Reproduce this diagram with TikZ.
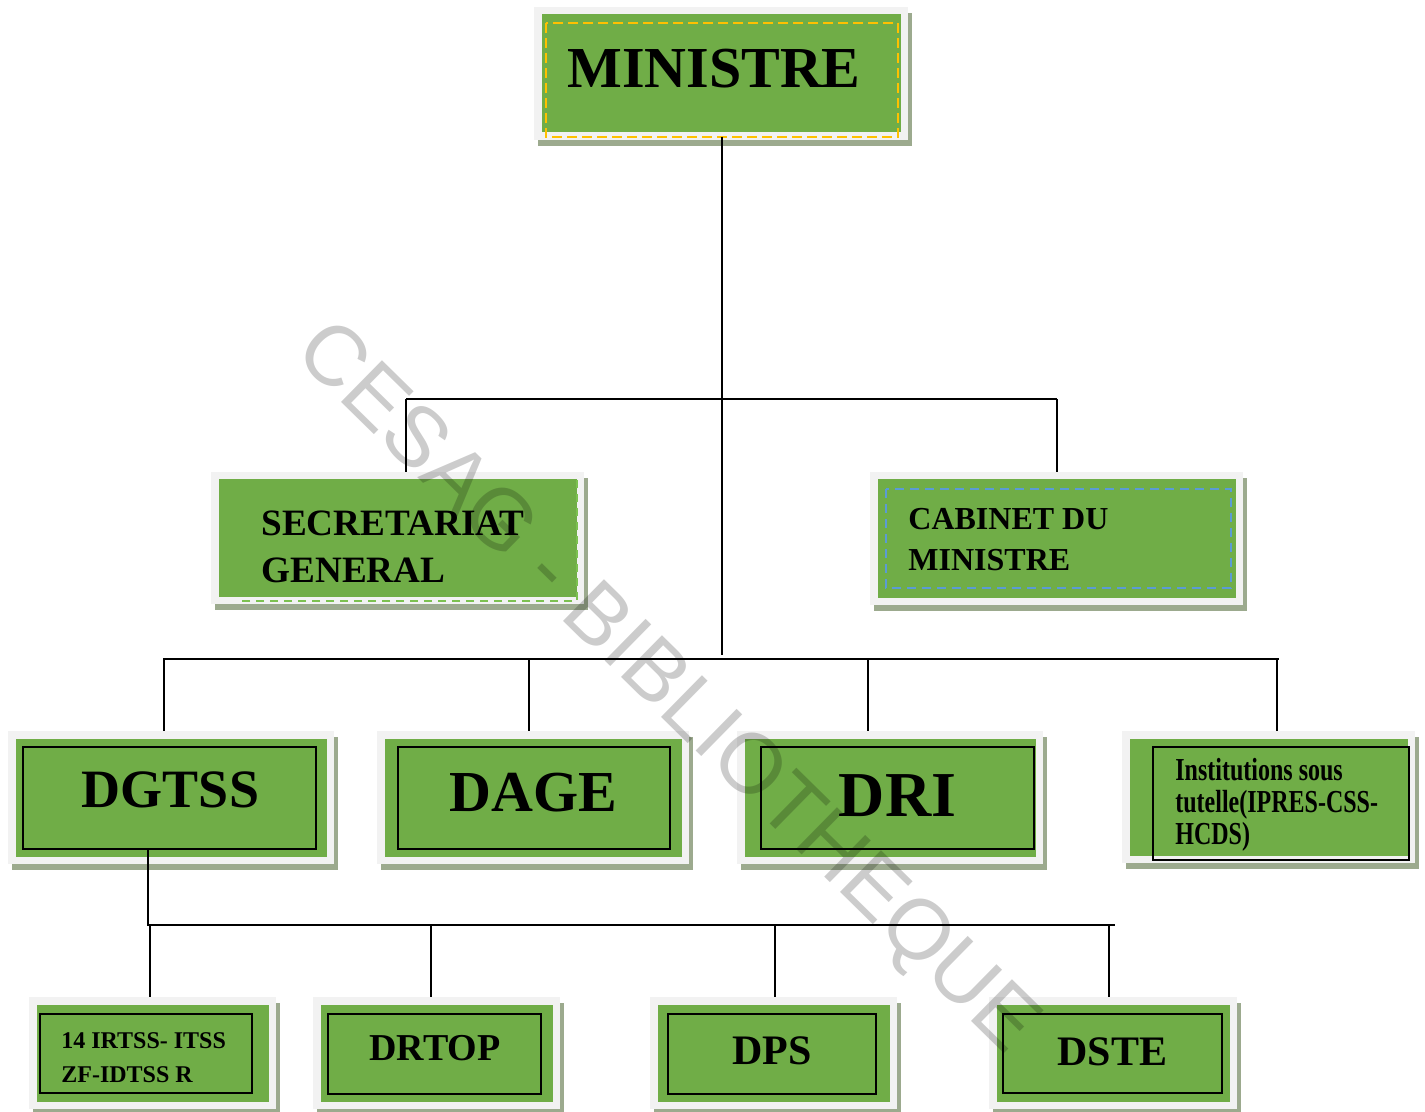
\documentclass[tikz,border=0pt]{standalone}
\usepackage{fontspec}
\setmainfont{Liberation Serif}
\newfontfamily\narrowserif[FakeStretch=0.75]{Liberation Serif}
\newfontfamily\wmfont{Liberation Sans}
\usetikzlibrary{backgrounds}
\definecolor{boxgreen}{HTML}{70AD47}
\definecolor{framegray}{HTML}{F2F2F2}
\definecolor{shadowgreen}{HTML}{9CAA8E}
\definecolor{dashyellow}{HTML}{FFC000}
\definecolor{dashblue}{HTML}{5B9BD5}
\definecolor{dashgreen}{HTML}{7CC150}

\begin{document}
\begin{tikzpicture}[
			x=0.5pt, y=-0.5pt,
			frame/.style n args={2}{draw=framegray, line width=3.75pt, fill=boxgreen, inner sep=0pt,
				minimum width=(#1-7.5)*0.5pt, minimum height=(#2-7.5)*0.5pt},
			inbox/.style={draw=black, line width=0.9pt},
			dashyel/.style={draw=dashyellow, line width=1.4pt, dash pattern=on 5pt off 2.5pt},
			dashgrn/.style={draw=dashgreen, line width=1.4pt, dash pattern=on 4pt off 3pt},
			dashblu/.style={draw=dashblue, line width=1.4pt, dash pattern=on 4.5pt off 3pt},
			lbl/.style={inner sep=0pt, text=black},
			multi/.style={lbl, anchor=north west, align=left},
			link/.style={draw=black, line width=1.1pt},
			wm/.style={font=\wmfont\fontsize{42.5}{42.5}\selectfont, text=black, text opacity=0.2, rotate=-44.5}
		]
		\useasboundingbox (0,0) rectangle (1425,1112);

		% boxes
		\node[frame={374}{133}] (min) at (721,73.5) {};
		\node[frame={373}{132}] (sg) at (397.5,538) {};
		\node[frame={373}{133}] (cab) at (1056.5,538.5) {};
		\node[frame={326}{133}] (dgtss) at (171,797.5) {};
		\node[frame={312}{133}] (dage) at (533,797.5) {};
		\node[frame={306}{133}] (dri) at (890,797.5) {};
		\node[frame={293}{132}] (inst) at (1268.5,797) {};
		\node[frame={247}{112}] (irtss) at (152.5,1053) {};
		\node[frame={247}{112}] (drtop) at (436.5,1053) {};
		\node[frame={247}{112}] (dps) at (773.5,1053) {};
		\node[frame={248}{112}] (dste) at (1113,1053) {};

		\begin{scope}[on background layer]
			\foreach \n in {min,sg,cab,dgtss,dage,dri,inst,irtss,drtop,dps,dste}
				\fill[shadowgreen] ([shift={(4,6)}]\n.north west) rectangle ([shift={(4,6)}]\n.south east);
		\end{scope}

		% inner borders
		\draw[dashyel] (546,23) rectangle (898,137);
		\draw[dashgrn] (577,480) -- (577,601) -- (239,601);
		\draw[dashblu] (886,489) rectangle (1231,588);
		\foreach \a/\b/\c/\d in {23/747/316/849, 398/747/670/849, 761/747/1034/849, 1153/747/1409/860,
				40/1014/252/1093, 328/1014/541/1094, 668/1014/876/1094, 1003/1014/1222/1093}
			\draw[inbox] (\a,\b) rectangle (\c,\d);

		% texts
		\node[lbl, font=\bfseries\fontsize{29}{35}\selectfont] (min-t) at (714,69) {MINISTRE};
		\node[multi, font=\bfseries\fontsize{18.6}{23.5}\selectfont] (sg-t) at (261,510) {SECRETARIAT\\GENERAL};
		\node[multi, font=\bfseries\fontsize{16}{20.5}\selectfont] (cab-t) at (908,508) {CABINET DU\\MINISTRE};
		\node[lbl, font=\bfseries\fontsize{27}{32}\selectfont] (dgtss-t) at (170.5,789.5) {DGTSS};
		\node[lbl, font=\bfseries\fontsize{29}{35}\selectfont] (dage-t) at (533.5,793) {DAGE};
		\node[lbl, font=\bfseries\fontsize{32}{38}\selectfont] (dri-t) at (897.5,796) {DRI};
		\node[multi, font=\narrowserif\bfseries\fontsize{16}{16}\selectfont] (inst-t) at (1175,758) {Institutions sous\\tutelle(IPRES-CSS-\\HCDS)};
		\node[multi, font=\bfseries\fontsize{12}{17}\selectfont] (irtss-t) at (61,1032) {14 IRTSS- ITSS\\ZF-IDTSS R};
		\node[lbl, font=\bfseries\fontsize{19}{23}\selectfont] (drtop-t) at (435,1048.5) {DRTOP};
		\node[lbl, font=\bfseries\fontsize{21}{25}\selectfont] (dps-t) at (772,1051) {DPS};
		\node[lbl, font=\bfseries\fontsize{21}{25}\selectfont] (dste-t) at (1112.5,1051.5) {DSTE};

		% connectors
		\coordinate (min-in) at (722,137);
		\coordinate (hub) at (722,655);
		\draw[link] (min-in) -- (hub);

		\coordinate (b1w) at (406,399);
		\coordinate (b1e) at (1057,399);
		\draw[link] (b1w) -- (b1e);
		\draw[link] (b1w) -- (b1w |- sg.north);
		\draw[link] (b1e) -- (b1e |- cab.north);

		\coordinate (b2w) at (163,659);
		\coordinate (b2e) at (1279,659);
		\draw[link] (b2w) -- (b2e);
		\foreach \n/\x in {dgtss/164, dage/529, dri/868, inst/1277}{
			\coordinate (s) at (\x,659);
			\draw[link] (s) -- (s |- \n.north);
		}

		\coordinate (dgtss-in) at (148,849);
		\coordinate (b3w) at (148,925);
		\coordinate (b3e) at (1115,925);
		\draw[link] (dgtss-in) -- (b3w) -- (b3e);
		\foreach \n/\x in {irtss/150, drtop/431, dps/775, dste/1109}{
			\coordinate (s) at (\x,925);
			\draw[link] (s) -- (s |- \n.north);
		}

		% watermark
		\node[wm] (wm) at (665,690) {CESAG - BIBLIOTHEQUE};
	\end{tikzpicture}
\end{document}
